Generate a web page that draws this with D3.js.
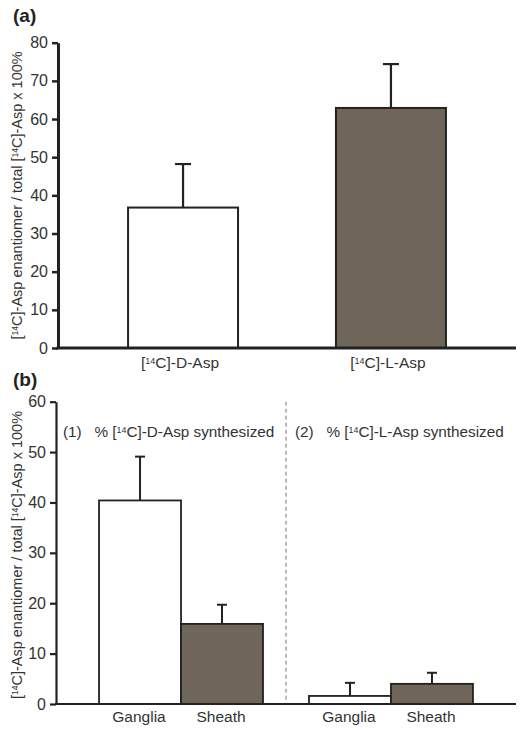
<!DOCTYPE html>
<html><head><meta charset="utf-8">
<script src="https://cdn.jsdelivr.net/npm/d3@7"></script>
<style>body{margin:0;background:#fff}svg{display:block;font-family:"Liberation Sans",Arial,sans-serif}</style>
</head><body><svg id="c" width="524" height="730"></svg>
<script>
// ---- data ----
const catsA = ["D", "L"];
const labelsA = ["-D-Asp", "-L-Asp"];
const meansA = [36.8, 62.9];
const errsA = [48.2, 74.4];
const ticksA = [0, 10, 20, 30, 40, 50, 60, 70, 80];

const groupsB = ["D-Asp", "L-Asp"];
const subCatsB = ["Ganglia", "Sheath"];
const meansB = [[40.4, 15.9], [1.6, 4.0]];
const errsB = [[49.1, 19.7], [4.2, 6.2]];
const ticksB = [0, 10, 20, 30, 40, 50, 60];

const fills = ["#ffffff", "#6f6558"];
const ink = "#222";

const svg = d3.select("#c");

function yTitle(g, x, y) {
  const t = g.append("text").attr("transform", `translate(${x},${y}) rotate(-90)`)
    .attr("text-anchor", "middle").attr("font-size", 14.5).attr("fill", "#333");
  t.append("tspan").text("[");
  t.append("tspan").text("14").attr("font-size", 8.5).attr("baseline-shift", "45%");
  t.append("tspan").text("C]-Asp enantiomer / total [");
  t.append("tspan").text("14").attr("font-size", 8.5).attr("baseline-shift", "45%");
  t.append("tspan").text("C]-Asp x 100%");
}
function isoText(g, x, y, pre, post, size, anchor) {
  const t = g.append("text").attr("x", x).attr("y", y).attr("text-anchor", anchor || "middle")
    .attr("font-size", size).attr("fill", "#333");
  t.append("tspan").text(pre + "[");
  t.append("tspan").text("14").attr("font-size", size * 0.58).attr("baseline-shift", "45%");
  t.append("tspan").text("C]" + post);
  return t;
}

// ---- Panel (a) ----
{
  const left = 58, right = 516, top = 42.7, bottom = 348;
  const x = d3.scaleBand().domain(catsA).range([left, right]).paddingInner(0.471).paddingOuter(0.337);
  const y = d3.scaleLinear().domain([0, 80]).range([bottom, top]);
  const g = svg.append("g");
  g.append("text").attr("x", 13).attr("y", 22).attr("font-size", 19).attr("font-weight", "bold").attr("fill", "#222").text("(a)");
  g.selectAll("rect.bar").data(catsA).join("rect")
    .attr("x", d => x(d)).attr("width", x.bandwidth())
    .attr("y", (d, i) => y(meansA[i])).attr("height", (d, i) => y(0) - y(meansA[i]))
    .attr("fill", (d, i) => fills[i]).attr("stroke", ink).attr("stroke-width", 2);
  catsA.forEach((d, i) => {
    const cx = x(d) + x.bandwidth() / 2;
    g.append("line").attr("x1", cx).attr("x2", cx).attr("y1", y(meansA[i])).attr("y2", y(errsA[i])).attr("stroke", ink).attr("stroke-width", 2.2);
    g.append("line").attr("x1", cx - 8).attr("x2", cx + 8).attr("y1", y(errsA[i])).attr("y2", y(errsA[i])).attr("stroke", ink).attr("stroke-width", 2.2);
  });
  const ya = g.append("g").attr("transform", `translate(${left},0)`)
    .call(d3.axisLeft(y).tickValues(ticksA).tickSize(6).tickSizeOuter(0).tickPadding(4));
  ya.select(".domain").attr("stroke", ink).attr("stroke-width", 3);
  ya.selectAll(".tick line").attr("stroke", ink).attr("stroke-width", 2.5);
  ya.selectAll(".tick text").attr("font-size", 16).attr("fill", "#333").attr("font-family", "Liberation Sans, Arial, sans-serif");
  g.append("line").attr("x1", left - 1.5).attr("x2", right).attr("y1", bottom).attr("y2", bottom).attr("stroke", ink).attr("stroke-width", 3);
  catsA.forEach((d, i) => {
    isoText(g, x(d) + x.bandwidth() / 2 - 3, 368, "", labelsA[i], 15.5);
  });
  yTitle(g, 22, (top + bottom) / 2);
}

// ---- Panel (b) ----
{
  const left = 56, right = 516, top = 401.7, bottom = 704;
  const x0 = d3.scaleBand().domain(groupsB).range([left, right]).paddingInner(0.219).paddingOuter(0.205);
  const x1 = d3.scaleBand().domain(subCatsB).range([0, x0.bandwidth()]).padding(0);
  const y = d3.scaleLinear().domain([0, 60]).range([bottom, top]);
  const g = svg.append("g");
  g.append("text").attr("x", 13).attr("y", 386).attr("font-size", 19).attr("font-weight", "bold").attr("fill", "#222").text("(b)");
  groupsB.forEach((grp, gi) => {
    subCatsB.forEach((s, si) => {
      const bx = x0(grp) + x1(s);
      g.append("rect").attr("x", bx).attr("width", x1.bandwidth())
        .attr("y", y(meansB[gi][si])).attr("height", y(0) - y(meansB[gi][si]))
        .attr("fill", fills[si]).attr("stroke", ink).attr("stroke-width", 1.8);
      const cx = bx + x1.bandwidth() / 2;
      g.append("line").attr("x1", cx).attr("x2", cx).attr("y1", y(meansB[gi][si])).attr("y2", y(errsB[gi][si])).attr("stroke", ink).attr("stroke-width", 2);
      g.append("line").attr("x1", cx - 5).attr("x2", cx + 5).attr("y1", y(errsB[gi][si])).attr("y2", y(errsB[gi][si])).attr("stroke", ink).attr("stroke-width", 2);
      g.append("text").attr("x", cx - 1).attr("y", 722).attr("text-anchor", "middle").attr("font-size", 15.5).attr("fill", "#333").text(s);
    });
  });
  const divX = (x0(groupsB[0]) + x0.bandwidth() + x0(groupsB[1])) / 2;
  g.append("line").attr("x1", divX).attr("x2", divX).attr("y1", top).attr("y2", bottom)
    .attr("stroke", "#777").attr("stroke-width", 1).attr("stroke-dasharray", "4,3");
  isoText(g, 63, 437, "(1)   % ", "-D-Asp synthesized", 15.3, "start").attr("xml:space", "preserve");
  isoText(g, 295, 437, "(2)   % ", "-L-Asp synthesized", 15.3, "start").attr("xml:space", "preserve");
  const ya = g.append("g").attr("transform", `translate(${left},0)`)
    .call(d3.axisLeft(y).tickValues(ticksB).tickSize(6).tickSizeOuter(0).tickPadding(4));
  ya.select(".domain").attr("stroke", ink).attr("stroke-width", 2.2);
  ya.selectAll(".tick line").attr("stroke", ink).attr("stroke-width", 2.2);
  ya.selectAll(".tick text").attr("font-size", 16).attr("fill", "#333").attr("font-family", "Liberation Sans, Arial, sans-serif");
  g.append("line").attr("x1", left - 1).attr("x2", right).attr("y1", bottom).attr("y2", bottom).attr("stroke", ink).attr("stroke-width", 2.2);
  yTitle(g, 22, 555);
}
</script></body></html>
